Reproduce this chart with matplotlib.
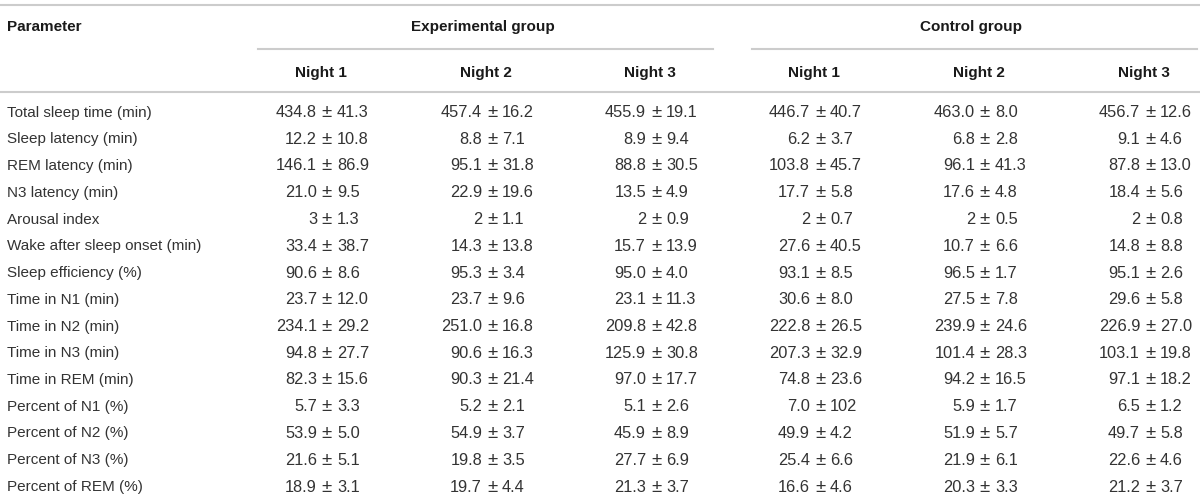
import matplotlib.pyplot as plt

parameters = ["Total sleep time (min)", "Sleep latency (min)", "REM latency (min)",
              "N3 latency (min)", "Arousal index", "Wake after sleep onset (min)",
              "Sleep efficiency (%)", "Time in N1 (min)", "Time in N2 (min)",
              "Time in N3 (min)", "Time in REM (min)", "Percent of N1 (%)",
              "Percent of N2 (%)", "Percent of N3 (%)", "Percent of REM (%)"]
groups = ["Experimental group", "Control group"]
nights = ["Night 1", "Night 2", "Night 3"]

exp_night1 = ["434.8 ± 41.3", "12.2 ± 10.8", "146.1 ± 86.9", "21.0 ± 9.5", "3 ± 1.3",
              "33.4 ± 38.7", "90.6 ± 8.6", "23.7 ± 12.0", "234.1 ± 29.2", "94.8 ± 27.7",
              "82.3 ± 15.6", "5.7 ± 3.3", "53.9 ± 5.0", "21.6 ± 5.1", "18.9 ± 3.1"]
exp_night2 = ["457.4 ± 16.2", "8.8 ± 7.1", "95.1 ± 31.8", "22.9 ± 19.6", "2 ± 1.1",
              "14.3 ± 13.8", "95.3 ± 3.4", "23.7 ± 9.6", "251.0 ± 16.8", "90.6 ± 16.3",
              "90.3 ± 21.4", "5.2 ± 2.1", "54.9 ± 3.7", "19.8 ± 3.5", "19.7 ± 4.4"]
exp_night3 = ["455.9 ± 19.1", "8.9 ± 9.4", "88.8 ± 30.5", "13.5 ± 4.9", "2 ± 0.9",
              "15.7 ± 13.9", "95.0 ± 4.0", "23.1 ± 11.3", "209.8 ± 42.8", "125.9 ± 30.8",
              "97.0 ± 17.7", "5.1 ± 2.6", "45.9 ± 8.9", "27.7 ± 6.9", "21.3 ± 3.7"]
ctl_night1 = ["446.7 ± 40.7", "6.2 ± 3.7", "103.8 ± 45.7", "17.7 ± 5.8", "2 ± 0.7",
              "27.6 ± 40.5", "93.1 ± 8.5", "30.6 ± 8.0", "222.8 ± 26.5", "207.3 ± 32.9",
              "74.8 ± 23.6", "7.0 ± 102", "49.9 ± 4.2", "25.4 ± 6.6", "16.6 ± 4.6"]
ctl_night2 = ["463.0 ± 8.0", "6.8 ± 2.8", "96.1 ± 41.3", "17.6 ± 4.8", "2 ± 0.5",
              "10.7 ± 6.6", "96.5 ± 1.7", "27.5 ± 7.8", "239.9 ± 24.6", "101.4 ± 28.3",
              "94.2 ± 16.5", "5.9 ± 1.7", "51.9 ± 5.7", "21.9 ± 6.1", "20.3 ± 3.3"]
ctl_night3 = ["456.7 ± 12.6", "9.1 ± 4.6", "87.8 ± 13.0", "18.4 ± 5.6", "2 ± 0.8",
              "14.8 ± 8.8", "95.1 ± 2.6", "29.6 ± 5.8", "226.9 ± 27.0", "103.1 ± 19.8",
              "97.1 ± 18.2", "6.5 ± 1.2", "49.7 ± 5.8", "22.6 ± 4.6", "21.2 ± 3.7"]
columns = [exp_night1, exp_night2, exp_night3, ctl_night1, ctl_night2, ctl_night3]

W, H = 1200, 501
fig = plt.figure(figsize=(W / 100, H / 100), dpi=100)
ax = fig.add_axes([0, 0, 1, 1])
ax.set_xlim(0, W)
ax.set_ylim(H, 0)
ax.axis("off")

plt.rcParams["font.family"] = ["Liberation Sans", "DejaVu Sans"]
fs = 11
fs_num = 11.8
txt = "#333333"
hdr = "#1a1a1a"
line_c = "#cccccc"

# column positions (x of the ± sign)
col_x = [327, 492, 656, 820, 985, 1150]
group_span = [(258, 713), (752, 1197)]
row0, dy = 112.5, 26.75

# rules
ax.plot([0, W], [5, 5], color=line_c, lw=1.5)
ax.plot([0, W], [92, 92], color=line_c, lw=1.5)
for (a, b) in group_span:
    ax.plot([a, b], [48.5, 48.5], color=line_c, lw=1.5)

# header
ax.text(7, 26.5, "Parameter", fontsize=fs, fontweight="bold", color=hdr, va="center", ha="left")
for g, (a, b) in zip(groups, group_span):
    ax.text((a + b) / 2 - 3, 26.5, g, fontsize=fs, fontweight="bold", color=hdr, va="center", ha="center")
for i, x in enumerate(col_x):
    ax.text(x - 6, 73, nights[i % 3], fontsize=fs, fontweight="bold", color=hdr, va="center", ha="center")

# body
for r, p in enumerate(parameters):
    y = row0 + r * dy
    ax.text(7, y, p, fontsize=fs, color=txt, va="center", ha="left")
    for x, col in zip(col_x, columns):
        left, right = col[r].split(" ± ")
        ax.text(x - 10, y, left, fontsize=fs_num, color=txt, va="center", ha="right")
        ax.text(x, y, "±", fontsize=fs_num + 1.5, color=txt, va="center", ha="center")
        ax.text(x + 10, y, right, fontsize=fs_num, color=txt, va="center", ha="left")

fig.savefig("out.png", dpi=100)
